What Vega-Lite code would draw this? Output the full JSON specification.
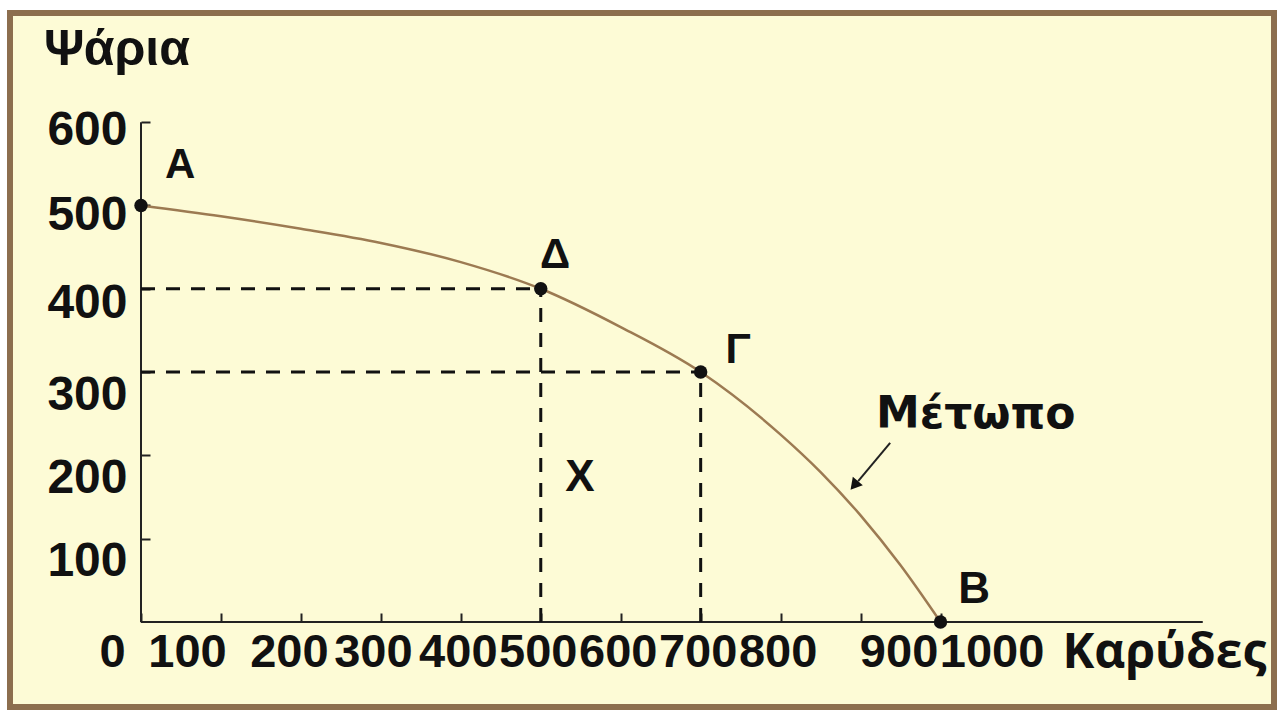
{
  "$schema": "https://vega.github.io/schema/vega-lite/v6.json",
  "width": 1264,
  "height": 694,
  "autosize": {"type": "none"},
  "padding": {"left": 10, "top": 13, "right": 7, "bottom": 6},
  "background": "#ffffff",
  "config": {
    "view": {"fill": "#FDFBD6", "stroke": "#8C6E4E", "strokeWidth": 6},
    "text": {"font": "Liberation Sans", "fontWeight": "bold", "color": "#111111"}
  },
  "datasets": {
    "curve": [
      {"karydes": 0, "psaria": 500},
      {"karydes": 100, "psaria": 487},
      {"karydes": 200, "psaria": 472},
      {"karydes": 300, "psaria": 455},
      {"karydes": 400, "psaria": 432},
      {"karydes": 500, "psaria": 400},
      {"karydes": 600, "psaria": 354},
      {"karydes": 700, "psaria": 300},
      {"karydes": 800, "psaria": 225},
      {"karydes": 850, "psaria": 180},
      {"karydes": 900, "psaria": 128},
      {"karydes": 950, "psaria": 68},
      {"karydes": 1000, "psaria": 0}
    ],
    "points": [
      {"name": "A", "karydes": 0, "psaria": 500},
      {"name": "Δ", "karydes": 500, "psaria": 400},
      {"name": "Γ", "karydes": 700, "psaria": 300},
      {"name": "B", "karydes": 1000, "psaria": 0}
    ],
    "axes": [
      {"x": 0, "y": 0, "x2": 1328, "y2": 0},
      {"x": 0, "y": 0, "x2": 0, "y2": 600}
    ],
    "dashed": [
      {"x": 0, "y": 400, "x2": 500, "y2": 400},
      {"x": 0, "y": 300, "x2": 700, "y2": 300},
      {"x": 500, "y": 0, "x2": 500, "y2": 400},
      {"x": 700, "y": 0, "x2": 700, "y2": 300}
    ],
    "labels": [
      {"text": "A", "x": 49, "y": 549, "size": 42},
      {"text": "Δ", "x": 518, "y": 441, "size": 42},
      {"text": "Γ", "x": 747, "y": 327, "size": 42},
      {"text": "B", "x": 1042, "y": 38, "size": 44},
      {"text": "Χ", "x": 549, "y": 173, "size": 44},
      {"text": "Ψάρια", "x": -30, "y": 687, "size": 50}
    ],
    "metopo": [
      {"text": "Μέτωπο", "x": 1044, "y": 233}
    ],
    "karydes": [
      {"text": "Καρύδες", "x": 1280, "y": -55}
    ],
    "arrow": [
      {"x": 937, "y": 215, "x2": 897, "y2": 169}
    ],
    "arrowhead": [
      {"x": 892, "y": 164}
    ]
  },
  "layer": [
    {
      "data": {"name": "axes"},
      "mark": {"type": "rule", "color": "#222222", "strokeWidth": 2},
      "encoding": {
        "x": {"field": "x", "type": "quantitative", "scale": {"domain": [-163.85, 1417.1], "nice": false, "zero": false},
          "axis": {"orient": "bottom", "offset": -85, "domain": false, "grid": false, "title": null, "format": "d",
            "values": [0, 100, 200, 300, 400, 500, 600, 700, 800, 900, 1000],
            "tickSize": -9, "tickWidth": 2, "tickColor": "#222222",
            "labelFont": "Liberation Sans", "labelFontWeight": "bold", "labelFontSize": 47,
            "labelColor": "#111111", "labelPadding": 16, "labelOverlap": false, "labelFlush": false, "labelBound": false,
            "labelOffset": {"condition": [
              {"test": "datum.value === 0", "value": -29},
              {"test": "datum.value === 100", "value": -34},
              {"test": "datum.value === 200", "value": -12},
              {"test": "datum.value === 300", "value": -8},
              {"test": "datum.value === 900", "value": 38},
              {"test": "datum.value === 1000", "value": 51}
            ], "value": -3}}},
        "x2": {"field": "x2"},
        "y": {"field": "y", "type": "quantitative", "scale": {"domain": [-102, 731], "nice": false, "zero": false},
          "axis": {"orient": "left", "offset": -131, "domain": false, "grid": false, "title": null,
            "values": [100, 200, 300, 400, 500, 600],
            "tickSize": -9, "tickWidth": 2, "tickColor": "#222222",
            "labelFont": "Liberation Sans", "labelFontWeight": "bold", "labelFontSize": 48,
            "labelColor": "#111111", "labelPadding": 23, "labelOverlap": false, "labelFlush": false, "labelBound": false,
            "labelOffset": {"condition": [
              {"test": "datum.value === 600", "value": 8},
              {"test": "datum.value === 500", "value": 10},
              {"test": "datum.value === 400", "value": 15}
            ], "value": 23}}},
        "y2": {"field": "y2"}
      }
    },
    {
      "data": {"name": "dashed"},
      "mark": {"type": "rule", "color": "#111111", "strokeWidth": 3, "strokeDash": [14, 11]},
      "encoding": {
        "x": {"field": "x", "type": "quantitative"},
        "x2": {"field": "x2"},
        "y": {"field": "y", "type": "quantitative"},
        "y2": {"field": "y2"}
      }
    },
    {
      "data": {"name": "curve"},
      "mark": {"type": "line", "color": "#9C7A52", "strokeWidth": 2.5, "interpolate": "monotone"},
      "encoding": {
        "x": {"field": "karydes", "type": "quantitative"},
        "y": {"field": "psaria", "type": "quantitative"}
      }
    },
    {
      "data": {"name": "points"},
      "mark": {"type": "point", "filled": true, "color": "#111111", "size": 180, "opacity": 1},
      "encoding": {
        "x": {"field": "karydes", "type": "quantitative"},
        "y": {"field": "psaria", "type": "quantitative"}
      }
    },
    {
      "data": {"name": "arrow"},
      "mark": {"type": "rule", "color": "#222222", "strokeWidth": 2},
      "encoding": {
        "x": {"field": "x", "type": "quantitative"},
        "x2": {"field": "x2"},
        "y": {"field": "y", "type": "quantitative"},
        "y2": {"field": "y2"}
      }
    },
    {
      "data": {"name": "arrowhead"},
      "mark": {"type": "point", "shape": "triangle-up", "filled": true, "color": "#111111", "size": 170, "angle": 220, "opacity": 1},
      "encoding": {
        "x": {"field": "x", "type": "quantitative"},
        "y": {"field": "y", "type": "quantitative"}
      }
    },
    {
      "data": {"name": "labels"},
      "mark": {"type": "text", "align": "center", "baseline": "middle"},
      "encoding": {
        "x": {"field": "x", "type": "quantitative"},
        "y": {"field": "y", "type": "quantitative"},
        "text": {"field": "text"},
        "size": {"field": "size", "type": "quantitative", "scale": null}
      }
    },
    {
      "data": {"name": "metopo"},
      "mark": {"type": "text", "align": "center", "baseline": "alphabetic", "font": "DejaVu Sans", "fontWeight": "bold", "fontSize": 44},
      "encoding": {
        "x": {"field": "x", "type": "quantitative"},
        "y": {"field": "y", "type": "quantitative"},
        "text": {"field": "text"}
      }
    },
    {
      "data": {"name": "karydes"},
      "mark": {"type": "text", "align": "center", "baseline": "alphabetic", "font": "Open Sans", "fontWeight": "bold", "fontSize": 48},
      "encoding": {
        "x": {"field": "x", "type": "quantitative"},
        "y": {"field": "y", "type": "quantitative"},
        "text": {"field": "text"}
      }
    }
  ]
}
